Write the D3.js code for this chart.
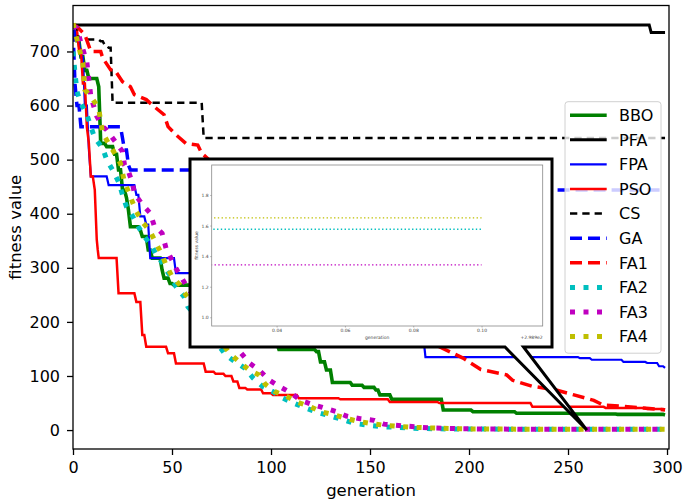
<!DOCTYPE html>
<html>
<head>
<meta charset="utf-8">
<script src="https://cdn.jsdelivr.net/npm/d3@7/dist/d3.min.js"></script>
<style>
    body { margin: 0; background: #fff; }
    svg { display: block; font-family: "DejaVu Sans", sans-serif; }
</style>
</head>
<body>
<div id="chart"></div>
<script>
// legend order = draw order
const names = ["BBO", "PFA", "FPA", "PSO", "CS", "GA", "FA1", "FA2", "FA3", "FA4"];

// [generation, fitness]
const BBO = [[0,748],[2,720],[4,690],[6,665],[8,650],[13,635],[14,530],[17,524],[21,510],[23,481],[25,444],[27,430],[28,407],[29,376],[34,370],[35,358],[38,333],[40,318],[45,296],[46,281],[49,271],[51,268],[70,240],[100,160],[104,149],[123,145],[125,126],[128,111],[131,88],[141,83],[147,79],[153,74],[155,65],[161,57],[187,37],[202,34],[224,31],[252,29.6],[275,29],[299,28]];
const PFA = [[0,749],[292,735],[299,735]];
const FPA = [[0,745],[2,720],[4,690],[6,600],[8,520],[9,469],[18,453],[32,435],[34,395],[37,380],[39,318],[52,290],[100,230],[140,170],[178,135],[256,133],[262,130],[278,126],[290,124],[296,118],[299,115]];
const PSO = [[0,749],[2,740],[3,703],[5,641],[7,560],[8,531],[9,469],[11,444],[12,352],[12.5,333],[13,318],[23,253],[32,237],[35,176],[37,154],[48,142],[52,123],[67,108],[72,104],[77,100],[81,90],[84,78],[88,75],[96,68],[101,65],[114,59],[135,57],[160,52],[185,50],[232,43],[269,41],[290,39],[299,38]];
const CS  = [[0,745],[3,722],[14,719],[16,712],[18,707],[20,605],[66,540],[299,540]];
const GA  = [[0,740],[1,640],[2,600],[4,561],[25,540],[26,518],[28,490],[29,481],[150,444],[299,444]];
const FA1 = [[0,748],[2,746],[6,731],[9,700],[14,700],[15,688],[19,666],[21,666],[25,644],[29,635],[31,620],[37,611],[41,598],[46,583],[48,561],[52,546],[57,530],[63,527],[65,512],[70,495],[120,300],[185,154],[197,133],[206,112],[219,102],[222,92],[232,81],[244,74],[253,65],[263,55],[268,46],[278,44],[291,40],[299,37]];
const FA2 = [[0,700],[1,660],[2,626],[4,604],[7,583],[9,561],[11,540],[15,521],[17,500],[20,481],[23,459],[25,435],[27,413],[30,396],[33,376],[36,358],[40,339],[42,324],[45,310],[47,296],[50,281],[52,265],[56,247],[58,228],[65,200],[77,139],[82,126],[87,114],[91,96],[96,80],[101,71],[106,59],[112,49],[118,40],[124,32],[130,26],[137,18.5],[142,12.3],[149,9],[157,6],[164,5],[175,3],[190,2],[230,1.576],[299,1.576]];
const FA3 = [[0,748],[2,743],[4,716],[7,680],[9,617],[12,580],[15,561],[17,555],[25,515],[26,490],[28,478],[30,457],[31,438],[35,417],[39,401],[41,378],[45,364],[47,336],[52,299],[55,281],[58,262],[65,230],[85,142],[89,124],[94,111],[99,92.5],[104,81],[110,69],[115,55],[121,47],[126,42],[133,34],[138,26],[145,21],[152,18],[157,11],[168,7.4],[180,4],[195,2.5],[230,1.343],[299,1.343]];
const FA4 = [[0,752],[2,722],[5,678],[6,629],[9,617],[13,595],[14,570],[15,549],[18,530],[21,512],[24,493],[26,458],[28,441],[30,422],[32,404],[35,385],[39,367],[42,345],[45,324],[47,305],[50,284],[54,268],[57,250],[65,215],[79,142],[84,126],[89,111],[94,102],[97,85],[102,71],[108,62],[113,52],[120,43],[125,34],[132,28],[138,21.6],[143,17],[150,12.3],[157,9],[164,7],[172,5],[185,3.5],[200,2],[230,1.65],[299,1.65]];

const xTicks = [0, 50, 100, 150, 200, 250, 300];
const yTicks = [0, 100, 200, 300, 400, 500, 600, 700];
const insetOffset = 298.9;
const insetXTicks = [0.04, 0.06, 0.08, 0.10];
const insetYTicks = [1.0, 1.2, 1.4, 1.6, 1.8];
const zoomPoint = [259.5, 0];

const seriesData = { BBO, PFA, FPA, PSO, CS, GA, FA1, FA2, FA3, FA4 };

const styles = {
    BBO: { color: "#008000", width: 3.6, dash: null, step: true },
    PFA: { color: "#000000", width: 3, dash: null, step: true },
    FPA: { color: "#0000ff", width: 2.2, dash: null, step: true },
    PSO: { color: "#ff0000", width: 2.5, dash: null, step: true },
    CS:  { color: "#000000", width: 2.5, dash: [7.3, 5], step: true },
    GA:  { color: "#0000ff", width: 3.5, dash: [12, 6], step: true },
    FA1: { color: "#ff0000", width: 3.5, dash: [12, 6], step: false },
    FA2: { color: "#00bfbf", width: 5, dash: [5, 8.5], step: false },
    FA3: { color: "#bf00bf", width: 5, dash: [5, 8.5], step: false },
    FA4: { color: "#bfbf00", width: 5, dash: [5, 8.5], step: false }
};

let W = 685, H = 504;
let margin = { left: 73, right: 16, top: 5.5, bottom: 55 };
let width = W - margin.left - margin.right;
let height = H - margin.top - margin.bottom;

let svg = d3.select("#chart").append("svg")
    .attr("width", W)
    .attr("height", H);

let g = svg.append("g")
    .attr("transform", `translate(${margin.left},${margin.top})`);

// Scales
let x = d3.scaleLinear().domain([0, 301]).range([0, width]);
let y = d3.scaleLinear().domain([-35, 785]).range([height, 0]);

g.append("clipPath").attr("id", "plotClip")
    .append("rect").attr("width", width).attr("height", height);

// a value holds until the generation before the next change,
// then moves there over one generation (like per-generation samples)
function stepVertices(pts) {
    let out = [pts[0]];
    for (let i = 1; i < pts.length; i++) {
        let prev = pts[i - 1], cur = pts[i];
        if (cur[0] - 1 > prev[0]) out.push([cur[0] - 1, prev[1]]);
        out.push(cur);
    }
    return out;
}

function pathFor(name, xs, ys) {
    let pts = seriesData[name];
    if (styles[name].step) pts = stepVertices(pts);
    return d3.line().x(d => xs(d[0])).y(d => ys(d[1]))(pts);
}

// Series
let lines = g.append("g").attr("clip-path", "url(#plotClip)");
names.forEach(function(name) {
    let s = styles[name];
    lines.append("path")
        .attr("fill", "none")
        .attr("stroke", s.color)
        .attr("stroke-width", s.width)
        .attr("stroke-dasharray", s.dash ? s.dash.join(",") : null)
        .attr("d", pathFor(name, x, y));
});

// Axes
let xAxis = g.append("g")
    .attr("transform", `translate(0,${height})`)
    .call(d3.axisBottom(x).tickValues(xTicks).tickSize(6).tickPadding(7));
let yAxis = g.append("g")
    .call(d3.axisLeft(y).tickValues(yTicks).tickSize(6).tickPadding(7));
[xAxis, yAxis].forEach(function(a) {
    a.select(".domain").remove();
    a.selectAll(".tick line").attr("stroke", "#000").attr("stroke-width", 1.3);
    a.selectAll(".tick text").attr("font-size", "16px").attr("fill", "#000")
        .attr("font-family", "DejaVu Sans");
});

g.append("rect")
    .attr("width", width).attr("height", height)
    .attr("fill", "none").attr("stroke", "#000").attr("stroke-width", 1.3);

// Labels
g.append("text")
    .attr("x", width / 2).attr("y", height + 47)
    .attr("text-anchor", "middle").attr("font-size", "16.5px")
    .text("generation");
svg.append("text")
    .attr("transform", `translate(15,${margin.top + height / 2}) rotate(-90)`)
    .attr("text-anchor", "middle").attr("dominant-baseline", "central")
    .attr("font-size", "16.5px")
    .text("fitness value");

// Zoom callout
let box = { x0: 190, y0: 159, x1: 552, y1: 347, t0: 505, t1: 523.5 };
let tipX = margin.left + x(zoomPoint[0]), tipY = margin.top + y(zoomPoint[1]);
let callout = d3.path();
callout.moveTo(box.x0, box.y0);
callout.lineTo(box.x1, box.y0);
callout.lineTo(box.x1, box.y1);
callout.lineTo(box.t1, box.y1);
callout.lineTo(tipX, tipY);
callout.lineTo(box.t0, box.y1);
callout.lineTo(box.x0, box.y1);
callout.closePath();
svg.append("path")
    .attr("d", callout.toString())
    .attr("fill", "#fff").attr("stroke", "#000").attr("stroke-width", 3)
    .attr("stroke-linejoin", "miter");

// Inset axes
let inset = { left: 211.7, top: 165, right: 542.7, bottom: 326 };
let iw = inset.right - inset.left, ih = inset.bottom - inset.top;
let ig = svg.append("g").attr("transform", `translate(${inset.left},${inset.top})`);
let ix = d3.scaleLinear().domain([0.021, 0.1179]).range([0, iw]);
let iy = d3.scaleLinear().domain([0.943, 1.996]).range([ih, 0]);

ig.append("clipPath").attr("id", "insetClip")
    .append("rect").attr("width", iw).attr("height", ih);
let ilines = ig.append("g").attr("clip-path", "url(#insetClip)");
let ixGen = d3.scaleLinear().domain([insetOffset + 0.021, insetOffset + 0.1179]).range([0, iw]);
names.forEach(function(name) {
    let s = styles[name];
    ilines.append("path")
        .attr("fill", "none")
        .attr("stroke", s.color)
        .attr("stroke-width", s.width / 3.6)
        .attr("stroke-dasharray", s.dash ? s.dash.map(v => v / 3.6).join(",") : null)
        .attr("d", pathFor(name, ixGen, iy));
});

let ixAxis = ig.append("g").attr("transform", `translate(0,${ih})`)
    .call(d3.axisBottom(ix).tickValues(insetXTicks).tickSize(1.5).tickPadding(1.5)
        .tickFormat(d3.format(".2f")));
let iyAxis = ig.append("g")
    .call(d3.axisLeft(iy).tickValues(insetYTicks).tickSize(1.5).tickPadding(1.5)
        .tickFormat(d3.format(".1f")));
[ixAxis, iyAxis].forEach(function(a) {
    a.select(".domain").remove();
    a.selectAll(".tick line").attr("stroke", "#666").attr("stroke-width", 0.5);
    a.selectAll(".tick text").attr("font-size", "4.5px").attr("fill", "#444")
        .attr("font-family", "DejaVu Sans");
});
ig.append("rect")
    .attr("width", iw).attr("height", ih)
    .attr("fill", "none").attr("stroke", "#888").attr("stroke-width", 0.8);
ig.append("text")
    .attr("x", iw / 2).attr("y", ih + 12.5)
    .attr("text-anchor", "middle").attr("font-size", "4.5px").attr("fill", "#444")
    .text("generation");
ig.append("text")
    .attr("x", iw).attr("y", ih + 12.5)
    .attr("text-anchor", "end").attr("font-size", "4.5px").attr("fill", "#444")
    .text("+2.989e2");
ig.append("text")
    .attr("transform", `translate(-14,${ih / 2}) rotate(-90)`)
    .attr("text-anchor", "middle").attr("font-size", "4.5px").attr("fill", "#444")
    .text("fitness value");

// Legend
let legend = svg.append("g").attr("transform", "translate(565,101.7)");
legend.append("rect")
    .attr("width", 96).attr("height", 251.5).attr("rx", 3)
    .attr("fill", "#fff").attr("fill-opacity", 0.8)
    .attr("stroke", "#d0d0d0").attr("stroke-width", 1);
names.forEach(function(name, i) {
    let s = styles[name];
    let row = legend.append("g").attr("transform", `translate(0,${13.5 + i * 24.6})`);
    row.append("line")
        .attr("x1", 5).attr("x2", 41.7)
        .attr("stroke", s.color)
        .attr("stroke-width", s.width)
        .attr("stroke-dasharray", s.dash ? s.dash.join(",") : null);
    row.append("text")
        .attr("x", 54).attr("dy", "0.36em")
        .attr("font-size", "16px")
        .text(name);
});
</script>
</body>
</html>
